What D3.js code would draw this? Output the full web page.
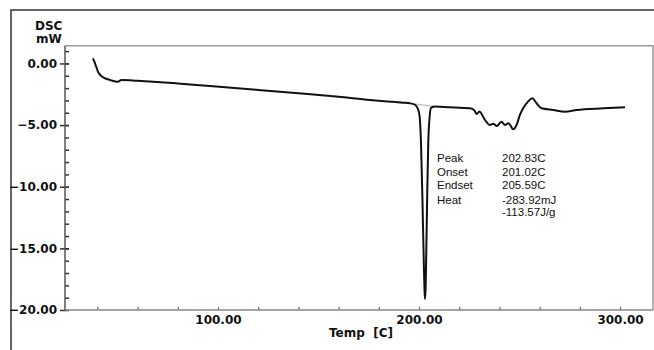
<!DOCTYPE html>
<html>
<head>
<meta charset="utf-8">
<script src="https://cdn.jsdelivr.net/npm/d3@7"></script>
<style>
  body { margin: 0; background: #fff; }
  svg { display: block; }
  .tick-label { font-family: 'DejaVu Sans', sans-serif; font-weight: bold; font-size: 12px; fill: #111; }
  .note { font-family: 'Liberation Sans', Arial, sans-serif; font-size: 11.5px; fill: #111; }
</style>
</head>
<body>
<svg></svg>
<script>
// DSC trace, temp in C vs heat flow in mW
const temps = [37.8, 38.6, 39.5, 40.3, 41.5, 43.8, 46.5, 50.2, 52, 60, 80, 96, 120, 140, 160, 175.6,
  186, 192, 195.5, 198, 199.5, 200.3, 201.0, 201.7, 202.3, 202.8, 203.0, 203.3, 203.7, 204.1, 204.6,
  205.3, 206, 208, 215, 225.4, 227.5, 228.7, 230, 232.8, 235.3, 237, 238.7, 241, 242.8, 244.5, 246.9,
  248.5, 250.2, 251.8, 254.2, 256.4, 258.5, 261, 266.8, 272.6, 278.4, 291.7, 302.5];
const heatFlow = [0.42, 0.1, -0.3, -0.66, -0.95, -1.2, -1.35, -1.48, -1.34, -1.4, -1.62, -1.83, -2.15, -2.42, -2.7, -2.96,
  -3.1, -3.18, -3.23, -3.35, -3.7, -4.3, -6.5, -11, -15.5, -18.6, -19.1, -18.2, -14.5, -10.5, -6.5,
  -4.3, -3.6, -3.5, -3.55, -3.64, -3.8, -4.1, -3.9, -4.58, -4.99, -4.9, -5.07, -4.72, -4.99, -4.85, -5.34,
  -4.99, -4.18, -3.64, -3.1, -2.83, -3.23, -3.64, -3.77, -3.91, -3.77, -3.64, -3.56];

// peak integration baseline
const baseTemps = [190, 208];
const baseVals = [-3.12, -3.5];

const yTicks = [0, -5, -10, -15, -20];
const xTicks = [100, 200, 300];
const noteLabels = ['Peak', 'Onset', 'Endset', 'Heat', ''];
const noteValues = ['202.83C', '201.02C', '205.59C', '-283.92mJ', '-113.57J/g'];

const W = 654, H = 350;
const svg = d3.select('svg').attr('width', W).attr('height', H);

const pLeft = 65, pRight = 653, pTop = 45.7, pBottom = 310;
const x = d3.scaleLinear().domain([23.9, 316.4]).range([pLeft, pRight]);
const y = d3.scaleLinear().domain([-20, 1.44]).range([pBottom, pTop]);

// outer frame
svg.append('rect')
  .attr('x', 11).attr('y', 10).attr('width', 660).attr('height', 360)
  .attr('fill', 'none').attr('stroke', '#333').attr('stroke-width', 1.5);

// plot box
svg.append('path')
  .attr('d', `M${pLeft},${pTop}H${pRight}V${pBottom}`)
  .attr('fill', 'none').attr('stroke', '#999').attr('stroke-width', 1.5);

// y axis
const yAxis = svg.append('g').attr('transform', `translate(${pLeft},0)`);
yAxis.call(d3.axisLeft(y).tickValues(yTicks).tickFormat(d3.format('.2f')).tickSize(5).tickPadding(3))
  .call(g => g.select('.domain').remove());
yAxis.selectAll('text').attr('class', 'tick-label').attr('fill', null);
yAxis.selectAll('.tick line').attr('stroke', '#333').attr('stroke-width', 1.5).attr('x2', -5).attr('x1', 4);
yAxis.append('g').call(d3.axisRight(y).tickValues(d3.range(1, -20, -1)).tickSize(4).tickFormat(''))
  .call(g => g.select('.domain').remove())
  .selectAll('line').attr('stroke', '#333').attr('stroke-width', 1.5);
yAxis.append('line').attr('y1', pTop).attr('y2', pBottom).attr('stroke', '#555').attr('stroke-width', 1.5);

// x axis
const xAxis = svg.append('g').attr('transform', `translate(0,${pBottom})`);
xAxis.call(d3.axisBottom(x).tickValues(xTicks).tickFormat(d3.format('.2f')).tickSize(0).tickPadding(5))
  .call(g => g.select('.domain').remove());
xAxis.selectAll('text').attr('class', 'tick-label').attr('fill', null);
xAxis.append('g').call(d3.axisTop(x).tickValues(d3.range(40, 301, 20)).tickSize(3).tickFormat(''))
  .call(g => g.select('.domain').remove())
  .selectAll('line').attr('stroke', '#666').attr('stroke-width', 1.2);
xAxis.append('line').attr('x1', pLeft).attr('x2', pRight).attr('stroke', '#888').attr('stroke-width', 1.5);

// axis titles
svg.append('text').attr('class', 'tick-label').attr('x', 35).attr('y', 30).text('DSC');
svg.append('text').attr('class', 'tick-label').attr('x', 36).attr('y', 43).text('mW');
svg.append('text').attr('class', 'tick-label').attr('x', 361).attr('y', 337)
  .attr('text-anchor', 'middle').style('white-space', 'pre').text('Temp  [C]');

// baseline under the peak
svg.append('line')
  .attr('x1', x(baseTemps[0])).attr('y1', y(baseVals[0]))
  .attr('x2', x(baseTemps[1])).attr('y2', y(baseVals[1]))
  .attr('stroke', '#bbb').attr('stroke-width', 1.2);

// curve
const pts = temps.map((t, i) => [t, heatFlow[i]]);
svg.append('path')
  .datum(pts)
  .attr('fill', 'none')
  .attr('stroke', '#111')
  .attr('stroke-width', 2)
  .attr('stroke-linejoin', 'round')
  .attr('d', d3.line().x(d => x(d[0])).y(d => y(d[1])).curve(d3.curveMonotoneX));

// peak report
const rowY = [162, 175.5, 189, 204, 216];
const notes = svg.append('g');
notes.selectAll('text.lab').data(noteLabels).enter().append('text')
  .attr('class', 'note').attr('x', 437).attr('y', (d, i) => rowY[i]).text(d => d);
notes.selectAll('text.val').data(noteValues).enter().append('text')
  .attr('class', 'note').attr('x', 502).attr('y', (d, i) => rowY[i]).text(d => d);
</script>
</body>
</html>
